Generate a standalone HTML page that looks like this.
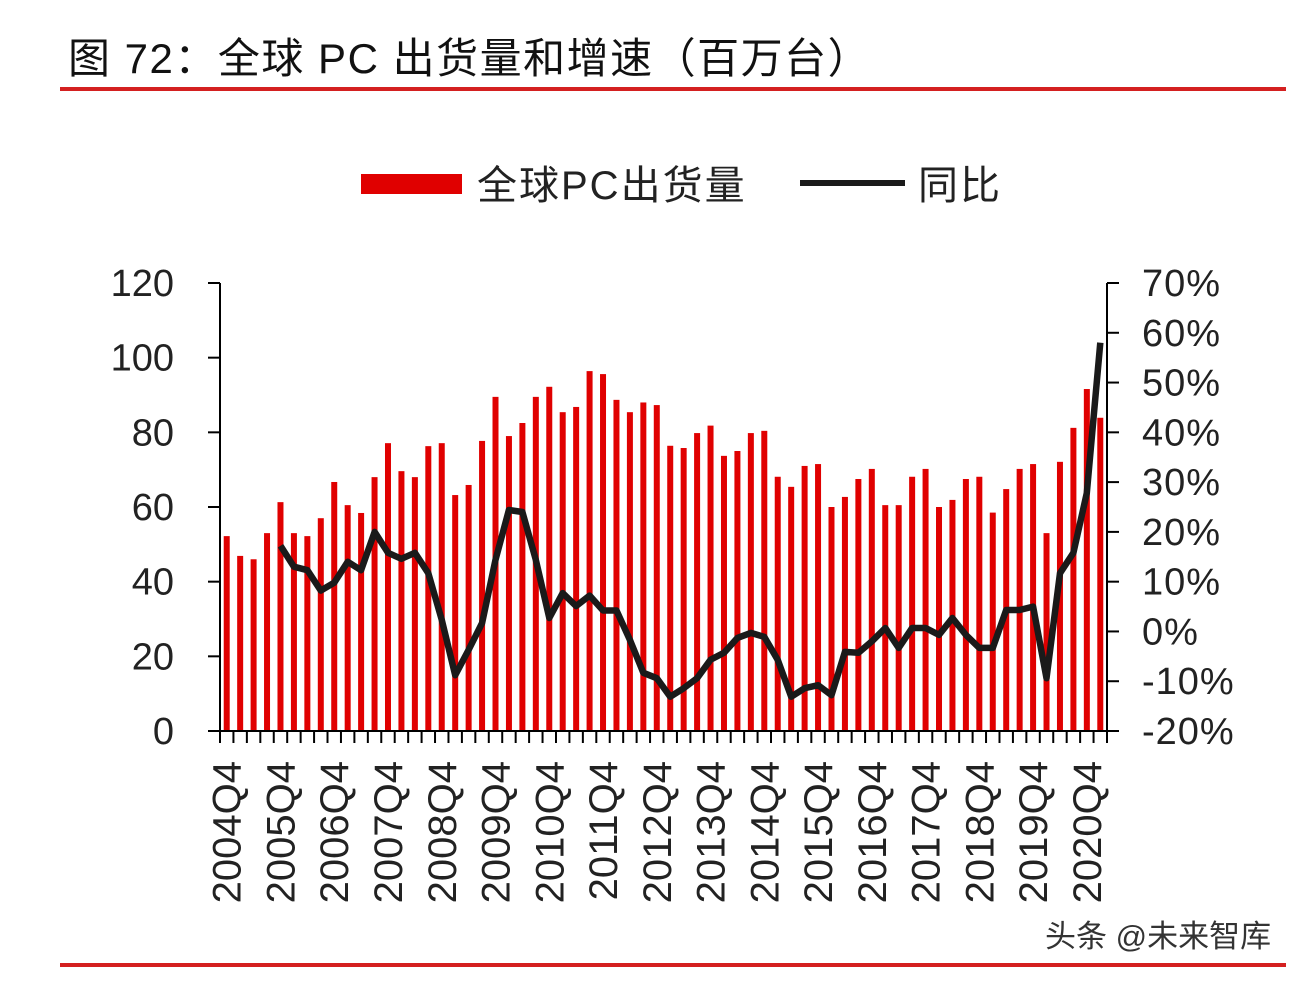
<!DOCTYPE html>
<html><head><meta charset="utf-8"><style>
body{margin:0;background:#fff;}
svg text{font-family:"Liberation Sans","Noto Sans CJK SC",sans-serif;}
</style></head><body>
<svg width="1314" height="982" viewBox="0 0 1314 982" xmlns="http://www.w3.org/2000/svg" id="chart">
<rect width="1314" height="982" fill="#fff"/>
<text x="68" y="73" font-size="42" letter-spacing="1.5" fill="#111">图 72：全球 PC 出货量和增速（百万台）</text>
<rect x="60" y="87" width="1226" height="4" fill="#d42020"/>
<rect x="60" y="963" width="1226" height="4" fill="#d42020"/>
<g>
<rect x="361" y="174" width="101" height="20" fill="#e00000"/>
<text x="477" y="199" font-size="40" letter-spacing="2" fill="#222">全球PC出货量</text>
<rect x="800" y="180" width="105" height="6" fill="#1a1a1a"/>
<text x="918" y="199" font-size="40" letter-spacing="2" fill="#222">同比</text>
</g>
<g id="bars"></g>
<g id="axes"></g>
<path id="line" fill="none" stroke="#1a1a1a" stroke-width="6.5" stroke-linejoin="round"/>
<text x="1045" y="947" font-size="31" fill="#333">头条 @未来智库</text>
</svg>
<script>
const quarters = [];
for (let y = 2004, q = 4; quarters.length < 66; ) { quarters.push(y + 'Q' + q); q++; if (q > 4) { q = 1; y++; } }
const shipments = [52.2,46.9,46,53,61.3,53,52.2,57,66.7,60.5,58.4,68,77.1,69.6,68,76.3,77.1,63.2,65.9,77.7,89.5,79,82.5,89.5,92.2,85.4,86.8,96.4,95.6,88.7,85.4,88,87.3,76.4,75.8,79.8,81.8,73.7,75,79.8,80.4,68.1,65.4,71,71.5,60,62.7,67.5,70.2,60.5,60.5,68.1,70.2,60,61.9,67.5,68.1,58.5,64.8,70.2,71.5,53,72.1,81.2,91.6,83.9];
const yoy = [null,null,null,null,17.2,13,12.3,8.2,9.8,14,12.3,20,15.8,14.6,15.8,11.7,2.3,-8.8,-3.7,1.7,14.4,24.4,24,14.4,2.7,7.7,5.1,7.2,4.2,4.2,-1.7,-8.3,-9.4,-13.1,-11.4,-9.4,-5.7,-4.3,-1.3,-0.3,-1.1,-5.7,-13.1,-11.4,-10.8,-12.8,-4.1,-4.3,-2,0.7,-3.3,0.7,0.7,-0.7,2.7,-0.7,-3.3,-3.3,4.3,4.3,5,-9.4,11.7,15.8,27.8,58];
const leftTicks = [0,20,40,60,80,100,120];
const rightTicks = [-20,-10,0,10,20,30,40,50,60,70];
const NS = 'http://www.w3.org/2000/svg';
const X0 = 220, X1 = 1107, Y0 = 731, Y1 = 283;
const band = (X1 - X0) / quarters.length;
const xPos = i => X0 + band * (i + 0.5);
const yL = v => Y0 - (v / 120) * (Y0 - Y1);
const yR = v => Y0 - ((v + 20) / 90) * (Y0 - Y1);
function mk(tag, attrs, parent) { const e = document.createElementNS(NS, tag); for (const k in attrs) e.setAttribute(k, attrs[k]); parent.appendChild(e); return e; }
const bars = document.getElementById('bars');
shipments.forEach((v, i) => {
  const r = mk('rect', {x: xPos(i) - 3, y: yL(v), width: 6, height: Y0 - yL(v), fill: '#e00000'}, bars);
  
  
});
const ax = document.getElementById('axes');
mk('line', {x1: X0, y1: Y1, x2: X0, y2: Y0, stroke: '#000', 'stroke-width': 2}, ax);
mk('line', {x1: X1, y1: Y1, x2: X1, y2: Y0, stroke: '#000', 'stroke-width': 2}, ax);
mk('line', {x1: X0, y1: Y0, x2: X1, y2: Y0, stroke: '#000', 'stroke-width': 2}, ax);
leftTicks.forEach(v => {
  mk('line', {x1: X0 - 12, y1: yL(v), x2: X0, y2: yL(v), stroke: '#000', 'stroke-width': 2}, ax);
  const t = mk('text', {x: 174, y: yL(v) + 13, 'font-size': 38, 'text-anchor': 'end', fill: '#222'}, ax);
  t.textContent = v;
  
  
});
rightTicks.forEach(v => {
  mk('line', {x1: X1, y1: yR(v), x2: X1 + 12, y2: yR(v), stroke: '#000', 'stroke-width': 2}, ax);
  const t = mk('text', {x: 1142, y: yR(v) + 13, 'font-size': 38, 'letter-spacing': 1, fill: '#222'}, ax);
  t.textContent = v + '%';
  
  
});
for (let i = 0; i <= quarters.length; i++) {
  const x = X0 + band * i;
  mk('line', {x1: x, y1: Y0, x2: x, y2: Y0 + 12, stroke: '#000', 'stroke-width': 2}, ax);
}
quarters.forEach((q, i) => {
  if (i % 4 !== 0) return;
  const x = xPos(i) + 14;
  const t = mk('text', {x: x, y: 761, 'font-size': 40, 'text-anchor': 'end', fill: '#222', transform: 'rotate(-90 ' + x + ' 761)'}, ax);
  t.textContent = q;
  
  
});
let d = '';
yoy.forEach((v, i) => { if (v === null) return; d += (d ? 'L' : 'M') + xPos(i).toFixed(1) + ',' + yR(v).toFixed(1); });
document.getElementById('line').setAttribute('d', d);
</script>
</body></html>
